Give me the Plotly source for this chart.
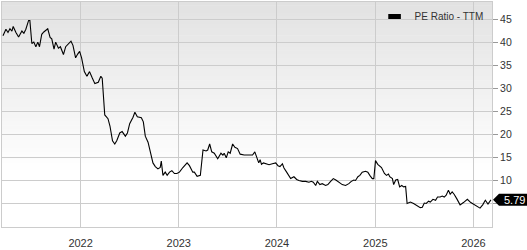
import plotly.graph_objects as go
import pandas as pd

# Dates as decimal years, PE ratio values
dec_years = [
    2021.209, 2021.239, 2021.260, 2021.280, 2021.300, 2021.313, 2021.341, 2021.368, 2021.402, 2021.422,
    2021.442, 2021.470, 2021.483, 2021.503, 2021.523, 2021.544, 2021.564, 2021.581, 2021.604, 2021.625,
    2021.665, 2021.689, 2021.706, 2021.729, 2021.746, 2021.774, 2021.794, 2021.807, 2021.825, 2021.848,
    2021.875, 2021.902, 2021.922, 2021.949, 2021.970, 2021.990, 2022.010, 2022.038, 2022.064, 2022.091,
    2022.119, 2022.145, 2022.180, 2022.206, 2022.220, 2022.246, 2022.279, 2022.299, 2022.325, 2022.348,
    2022.368, 2022.399, 2022.423, 2022.456, 2022.477, 2022.500, 2022.534, 2022.553, 2022.578, 2022.619,
    2022.639, 2022.659, 2022.687, 2022.713, 2022.737, 2022.761, 2022.788, 2022.811, 2022.822, 2022.839,
    2022.862, 2022.882, 2022.906, 2022.930, 2022.956, 2022.981, 2023.007, 2023.042, 2023.085, 2023.109,
    2023.143, 2023.159, 2023.187, 2023.220, 2023.247, 2023.278, 2023.295, 2023.315, 2023.336, 2023.362,
    2023.397, 2023.430, 2023.450, 2023.463, 2023.484, 2023.504, 2023.524, 2023.549, 2023.572, 2023.599,
    2023.626, 2023.666, 2023.701, 2023.734, 2023.752, 2023.775, 2023.795, 2023.815, 2023.829, 2023.843,
    2023.863, 2023.886, 2023.920, 2023.954, 2023.988, 2024.011, 2024.031, 2024.056, 2024.072, 2024.099,
    2024.123, 2024.140, 2024.173, 2024.201, 2024.224, 2024.259, 2024.292, 2024.326, 2024.350, 2024.370,
    2024.394, 2024.411, 2024.437, 2024.461, 2024.495, 2024.518, 2024.546, 2024.573, 2024.599, 2024.630,
    2024.664, 2024.698, 2024.731, 2024.756, 2024.782, 2024.799, 2024.823, 2024.843, 2024.867, 2024.901,
    2024.924, 2024.944, 2024.969, 2024.985, 2025.002, 2025.025, 2025.046, 2025.063, 2025.093, 2025.114,
    2025.134, 2025.147, 2025.174, 2025.187, 2025.208, 2025.228, 2025.248, 2025.269, 2025.289, 2025.309,
    2025.324, 2025.357, 2025.390, 2025.425, 2025.458, 2025.479, 2025.499, 2025.519, 2025.543, 2025.560,
    2025.587, 2025.614, 2025.634, 2025.661, 2025.682, 2025.702, 2025.722, 2025.745, 2025.763, 2025.783,
    2025.803, 2025.831, 2025.864, 2025.898, 2025.938, 2025.973, 2026.006, 2026.040, 2026.067, 2026.094,
    2026.121, 2026.148, 2026.178,
]
pe_ratio = [
    41.4, 42.8, 42.1, 42.9, 42.4, 43.4, 42.1, 41.1, 42.4, 41.9,
    42.8, 44.7, 44.7, 39.7, 40.0, 39.0, 40.0, 39.0, 41.7, 42.2,
    42.9, 41.0, 40.7, 38.5, 40.0, 38.7, 39.0, 38.3, 37.3, 39.0,
    39.7, 40.2, 39.3, 36.6, 37.4, 38.0, 36.6, 33.6, 32.6, 33.6,
    32.2, 31.0, 31.3, 32.6, 32.2, 24.2, 23.4, 21.8, 18.6, 17.9,
    18.6, 20.3, 20.6, 19.6, 20.3, 22.3, 23.7, 24.8, 23.8, 23.6,
    22.7, 19.6, 18.3, 16.2, 13.8, 13.0, 12.5, 12.8, 14.2, 11.1,
    11.8, 11.1, 11.8, 12.1, 11.5, 11.5, 11.8, 12.8, 13.8, 13.2,
    11.8, 11.8, 10.9, 11.1, 16.6, 16.4, 16.6, 17.9, 16.2, 15.9,
    14.7, 15.9, 15.5, 15.9, 14.9, 16.2, 15.9, 17.9, 17.2, 16.9,
    15.7, 15.5, 15.5, 15.4, 15.5, 16.2, 15.2, 13.8, 14.5, 13.5,
    13.8, 13.6, 13.4, 13.6, 13.8, 13.2, 13.0, 13.6, 12.7, 11.8,
    11.1, 10.4, 10.8, 10.2, 10.0, 9.8, 9.8, 9.6, 9.8, 9.6,
    8.9, 9.8, 9.1, 9.3, 8.9, 9.1, 9.8, 10.4, 10.1, 9.6,
    9.1, 8.9, 9.3, 9.8, 10.1, 10.0, 10.8, 11.1, 11.8, 12.0,
    11.8, 11.1, 10.4, 10.4, 14.3, 13.5, 13.0, 12.8, 11.5, 11.1,
    11.4, 10.8, 10.4, 9.1, 10.1, 10.2, 8.6, 8.9, 8.6, 8.7,
    5.0, 5.3, 5.0, 4.5, 4.1, 4.2, 5.1, 5.0, 5.5, 5.3,
    5.9, 5.7, 6.4, 6.4, 6.6, 6.4, 6.8, 7.9, 7.0, 7.5,
    7.0, 6.0, 4.7, 5.2, 5.9, 5.2, 4.8, 4.3, 4.0, 4.7,
    5.7, 4.9, 5.79,
]
series_name = "PE Ratio - TTM"
y_ticks = [5, 10, 15, 20, 25, 30, 35, 40, 45]
x_tick_years = [2022, 2023, 2024, 2025, 2026]


def dec_to_date(d):
    year = int(d)
    start = pd.Timestamp(year=year, month=1, day=1)
    end = pd.Timestamp(year=year + 1, month=1, day=1)
    return start + (end - start) * (d - year)


dates = [dec_to_date(d) for d in dec_years]
last_val = pe_ratio[-1]

# the last-value badge hides the tick label it sits on
y_ticktext = ["" if abs(v - last_val) < 1.5 else str(v) for v in y_ticks]

FONT = "Liberation Sans, Arial, Helvetica, sans-serif"
GRID = "#cccccc"
TXT = "#333333"

fig = go.Figure()
fig.add_trace(go.Scatter(
    x=dates, y=pe_ratio, mode="lines",
    line=dict(color="#000000", width=1.1),
    showlegend=False, hoverinfo="skip",
))
# legend entry
fig.add_trace(go.Scatter(
    x=[None], y=[None], mode="markers", name=series_name,
    marker=dict(symbol="line-ew", size=9, color="#000000",
                line=dict(color="#000000", width=5)),
    showlegend=True,
))

# vertical gradient background for the plot area
shapes = []
n = 60
top = (226, 226, 226)
for i in range(n):
    f = i / n
    t = min(1.0, f / 0.75)
    c = [round(top[k] + (255 - top[k]) * t) for k in range(3)]
    shapes.append(dict(
        type="rect", xref="paper", yref="paper",
        x0=0, x1=1, y0=1 - (i + 1) / n, y1=1 - i / n + 0.002,
        fillcolor=f"rgb({c[0]},{c[1]},{c[2]})", line=dict(width=0), layer="below",
    ))
# last value marker box
shapes.append(dict(
    type="path", xref="paper", yref="y",
    xsizemode="pixel", ysizemode="pixel", xanchor=1, yanchor=last_val,
    path="M1,0 L7,6 L35,6 L35,-6 L7,-6 Z",
    fillcolor="#000000", line=dict(width=0), layer="above",
))

fig.update_layout(
    width=527, height=250,
    margin=dict(l=1, r=35, t=1, b=10),
    paper_bgcolor="#ffffff",
    plot_bgcolor="rgba(0,0,0,0)",
    font=dict(family=FONT, size=11, color=TXT),
    shapes=shapes,
    showlegend=True,
    legend=dict(
        x=0.993, xanchor="right", y=1.0, yanchor="top",
        bgcolor="rgba(0,0,0,0)", borderwidth=0,
        font=dict(family=FONT, size=10, color=TXT),
        itemwidth=30, tracegroupgap=0,
    ),
    annotations=[dict(
        xref="paper", yref="y", x=1, y=last_val,
        text=f"{last_val:.2f}", showarrow=False,
        xanchor="left", xshift=10,
        font=dict(family=FONT, size=11, color="#ffffff"),
    )],
)

fig.update_xaxes(
    type="date",
    range=[dec_to_date(2021.199), dec_to_date(2026.189)],
    tickvals=[pd.Timestamp(year=y, month=1, day=1) for y in x_tick_years],
    ticktext=[str(y) for y in x_tick_years],
    showgrid=True, gridcolor=GRID, gridwidth=1,
    showline=True, linecolor=GRID, linewidth=1, mirror=True,
    ticks="", zeroline=False, ticklabelstandoff=6,
    tickfont=dict(family=FONT, size=11, color=TXT),
)
fig.update_yaxes(
    side="right",
    range=[-0.1, 48.7],
    tickvals=y_ticks, ticktext=y_ticktext,
    showgrid=True, gridcolor=GRID, gridwidth=1,
    showline=True, linecolor=GRID, linewidth=1, mirror=True,
    ticks="outside", ticklen=5, tickcolor="#999999",
    zeroline=False,
    tickfont=dict(family=FONT, size=10.5, color=TXT),
)

fig.write_html("out.html")
